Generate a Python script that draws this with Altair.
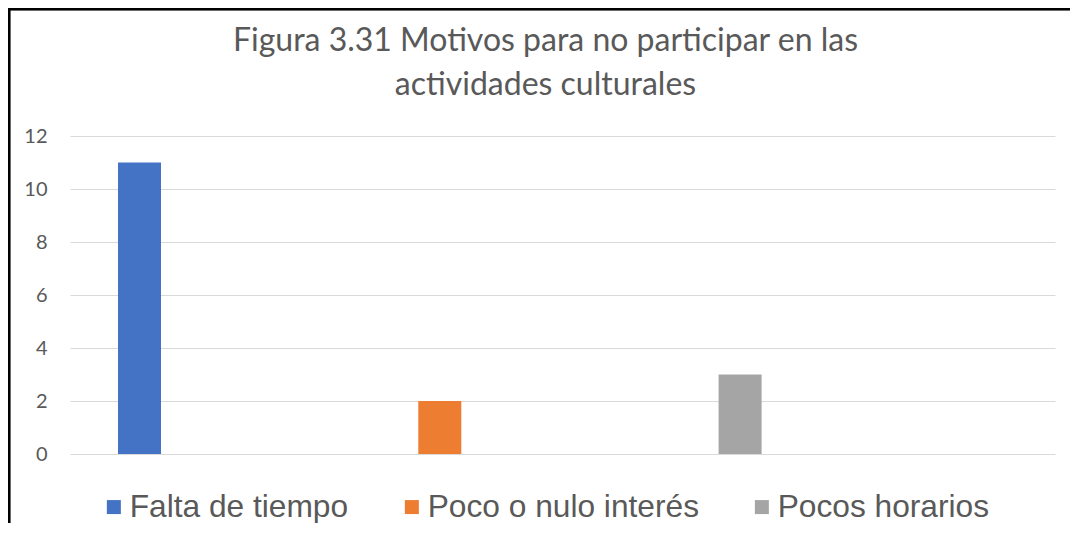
import altair as alt
import pandas as pd

series = ["Falta de tiempo", "Poco o nulo interés", "Pocos horarios"]
values = [11, 2, 3]
colors = ["#4472C4", "#ED7D31", "#A5A5A5"]
y_ticks = [0, 2, 4, 6, 8, 10, 12]
title_lines = ["Figura 3.31 Motivos para no participar en las", "actividades culturales"]

df = pd.DataFrame({"serie": series, "valor": values})

bars = alt.Chart(df).mark_bar().encode(
    x=alt.X("serie:N", axis=None, sort=series,
            scale=alt.Scale(paddingInner=0.8568, paddingOuter=0.5684, align=0.1406)),
    y=alt.Y("valor:Q", title=None,
            scale=alt.Scale(domain=[0, 12], nice=False),
            axis=alt.Axis(values=y_ticks, grid=True, gridColor="#d9d9d9", gridWidth=1,
                          domain=False, ticks=False, labelPadding=23,
                          labelFont="Lato", labelFontSize=20, labelColor="#595959")),
    color=alt.Color("serie:N", sort=series,
                    scale=alt.Scale(domain=series, range=colors),
                    legend=alt.Legend(title=None, orient="none", direction="horizontal",
                                      legendX=28, legendY=355, padding=0,
                                      symbolType="square", symbolSize=196,
                                      symbolStrokeWidth=0, labelFont="Liberation Sans",
                                      labelFontSize=31.7, labelColor="#595959",
                                      labelLimit=0, labelOffset=0, columnPadding=47)),
)

frame_left = alt.Chart(df).mark_rule(color="black", strokeWidth=2.5).encode(
    x=alt.value(-61), y=alt.value(-127), y2=alt.value(389))
frame_top = alt.Chart(df).mark_rule(color="black", strokeWidth=2.5).encode(
    x=alt.value(-62), x2=alt.value(1000), y=alt.value(-127))

chart = alt.layer(bars, frame_left, frame_top).properties(
    width=985, height=318,
    padding={"left": 62, "top": 128, "right": 15, "bottom": 69},
    autosize=alt.AutoSizeParams(type="none"),
    title=alt.TitleParams(title_lines, font="Lato", fontSize=32, fontWeight="normal",
                          color="#595959", anchor="middle", dx=-17, offset=-94,
                          lineHeight=44),
).configure_view(stroke=None)

chart.save("out.html", embed_options={"renderer": "svg", "actions": False})
